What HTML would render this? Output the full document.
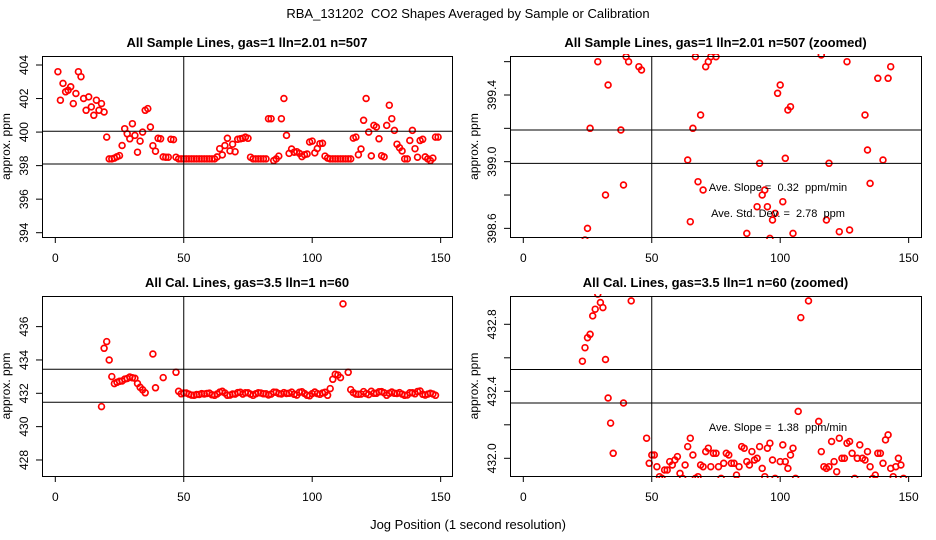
<!DOCTYPE html>
<html><head><meta charset="utf-8"><style>
html,body{margin:0;padding:0;background:#fff;width:936px;height:540px;overflow:hidden;}
svg{display:block;font-family:"Liberation Sans",sans-serif;}
svg text{white-space:pre;}
</style></head><body>
<svg id="chart" width="936" height="540" viewBox="0 0 936 540" xml:space="preserve">
<text x="468" y="18" text-anchor="middle" font-size="13">RBA_131202  CO2 Shapes Averaged by Sample or Calibration</text>
<text x="468" y="529" text-anchor="middle" font-size="13">Jog Position (1 second resolution)</text>
</svg>
<script>
// Sample-line data (x = 1..149)
const sampleX = [];
for (let i = 1; i <= 149; i++) sampleX.push(i);
const sampleValues = [
403.6,401.9,402.9,402.4,402.5,402.7,401.7,402.3,403.6,403.3,
402.0,401.3,402.1,401.5,401.0,401.9,401.3,401.7,401.2,399.7,
398.4,398.4,398.45,398.53,398.6,399.2,400.2,399.9,399.6,400.5,
399.8,398.8,399.46,400.0,401.3,401.4,400.3,399.19,398.86,399.63,
399.6,398.52,398.5,398.5,399.57,399.55,398.5,398.4,398.4,398.4,
398.4,398.4,398.4,398.4,398.4,398.4,398.4,398.4,398.4,398.4,
398.4,398.4,398.52,399.01,398.64,399.2,399.63,398.88,399.28,398.83,
399.57,399.6,399.63,399.7,399.63,398.5,398.4,398.4,398.4,398.4,
398.4,398.4,400.8,400.8,398.3,398.4,398.57,400.8,402.0,399.8,
398.73,398.99,398.8,398.83,398.73,398.54,398.65,398.69,399.41,399.46,
398.76,399.02,399.31,399.33,398.57,398.45,398.4,398.4,398.4,398.4,
398.4,398.4,398.4,398.4,398.4,399.64,399.7,398.65,398.99,400.7,
402.0,400.0,398.58,400.4,400.3,399.6,398.59,398.52,400.4,401.6,
400.8,400.1,399.28,399.07,398.87,398.4,398.4,399.5,400.1,399.01,
398.5,399.5,399.57,398.52,398.4,398.3,398.45,399.7,399.7];
// Calibration-line data (x = 18..148, null = missing)
const calX = [];
for (let i = 18; i <= 148; i++) calX.push(i);
const calValues = [
431.2,434.7,435.1,434.0,433.0,432.58,432.66,432.72,432.74,432.85,
432.89,432.98,432.93,432.9,432.59,432.36,432.21,432.03,null,null,
434.36,432.33,null,null,432.94,null,null,null,null,433.26,
432.12,431.97,432.02,432.02,431.95,431.89,431.88,431.93,431.93,431.98,
431.96,431.99,432.01,431.91,431.88,431.96,432.07,432.12,432.02,431.88,
431.89,431.96,431.95,432.04,432.06,431.95,432.03,432.03,431.95,431.88,
431.97,432.03,432.02,431.97,431.97,431.90,431.95,432.07,432.06,431.98,
431.96,432.04,431.99,432.0,432.07,431.94,431.89,432.06,432.09,431.99,
431.88,431.85,431.98,432.08,431.98,431.94,432.02,432.06,431.88,432.28,
432.84,433.14,433.1,432.94,437.36,438.1,433.26,432.22,432.04,431.95,
431.94,431.95,432.1,431.98,431.92,432.12,432.0,432.0,432.09,432.1,
432.03,431.88,432.0,432.08,432.0,431.99,432.04,431.95,431.88,431.9,
432.03,432.03,431.97,432.11,432.14,431.94,431.89,431.95,432.0,431.96,431.88];
const xTicks = [0, 50, 100, 150];
const p1YTicks = [394, 396, 398, 400, 402, 404];
const p2YTicks = [398.6, 398.8, 399.0, 399.2, 399.4, 399.6];
const p2YLabels = ["398.6", "", "399.0", "", "399.4", ""];
const p3YTicks = [428, 430, 432, 434, 436];
const p4YTicks = [432.0, 432.2, 432.4, 432.6, 432.8];
const p4YLabels = ["432.0", "", "432.4", "", "432.8"];
const p1HLines = [400.05, 398.1];
const p2HLines = [399.19, 398.99];
const p3HLines = [433.44, 431.46];
const p4HLines = [432.53, 432.33];
const vLine = 50;

const NS = "http://www.w3.org/2000/svg";
const svg = document.getElementById("chart");
function mk(tag, attrs, parent) {
  const e = document.createElementNS(NS, tag);
  for (const k in attrs) e.setAttribute(k, attrs[k]);
  (parent || svg).appendChild(e);
  return e;
}
const panels = [
  {id:"p1", title:"All Sample Lines, gas=1 lln=2.01 n=507", x0:42,x1:452,y0:56,y1:237, yRef:404, yRefPx:65, yScale:16.77,
   xs:sampleX, ys:sampleValues, ticks:p1YTicks, labels:p1YTicks.map(String), hl:p1HLines, notes:[]},
  {id:"p2", title:"All Sample Lines, gas=1 lln=2.01 n=507 (zoomed)", x0:510,x1:921,y0:56,y1:237, yRef:399.4, yRefPx:95, yScale:166.7,
   xs:sampleX, ys:sampleValues, ticks:p2YTicks, labels:p2YLabels, hl:p2HLines,
   notes:[["Ave. Slope =  0.32  ppm/min",191],["Ave. Std. Dev. =  2.78  ppm",217]]},
  {id:"p3", title:"All Cal. Lines, gas=3.5 lln=1 n=60", x0:42,x1:452,y0:296,y1:476, yRef:432, yRefPx:393.3, yScale:16.67,
   xs:calX, ys:calValues, ticks:p3YTicks, labels:p3YTicks.map(String), hl:p3HLines, notes:[]},
  {id:"p4", title:"All Cal. Lines, gas=3.5 lln=1 n=60 (zoomed)", x0:510,x1:921,y0:296,y1:476, yRef:432, yRefPx:458.3, yScale:167.5,
   xs:calX, ys:calValues, ticks:p4YTicks, labels:p4YLabels, hl:p4HLines,
   notes:[["Ave. Slope =  1.38  ppm/min",431]]}
];
panels.forEach(function(p){
  const g = mk("g", {});
  
  
  const xMap = function(v){ return p.x0 + 13.3 + v * 2.569; };
  const yMap = function(v){ return p.yRefPx + (p.yRef - v) * p.yScale; };
  const t = mk("text", {x:(p.x0+p.x1)/2, y:p.y0-9, "text-anchor":"middle", "font-size":"13", "font-weight":"bold"}, g);
  t.textContent = p.title;
  
  
  const cp = mk("clipPath", {id:"clip-"+p.id}, g);
  mk("rect", {x:p.x0, y:p.y0-2, width:p.x1-p.x0, height:p.y1-p.y0+4}, cp);
  const pg = mk("g", {"clip-path":"url(#clip-"+p.id+")"}, g);
  
  
  p.xs.forEach(function(xv, i){
    const yv = p.ys[i];
    if (yv === null) return;
    const cy = yMap(yv);
    if (cy < p.y0 - 4 || cy > p.y1 + 4) return;
    const c = mk("circle", {cx:xMap(xv).toFixed(1), cy:cy.toFixed(1), r:"2.9", fill:"none", stroke:"#ff0000", "stroke-width":"1.7"}, pg);
    
    
  });
  p.hl.forEach(function(h){
    const l = mk("line", {x1:p.x0, x2:p.x1, y1:yMap(h), y2:yMap(h), stroke:"#000", "stroke-width":"1"}, g);
    
    
  });
  const vl = mk("line", {x1:xMap(vLine), x2:xMap(vLine), y1:p.y0, y2:p.y1, stroke:"#000", "stroke-width":"1"}, g);
  
  
  const b = mk("rect", {x:p.x0+0.5, y:p.y0+0.5, width:p.x1-p.x0, height:p.y1-p.y0, fill:"none", stroke:"#000", "stroke-width":"1"}, g);
  
  
  xTicks.forEach(function(v){
    const x = xMap(v);
    mk("line", {x1:x, x2:x, y1:p.y1, y2:p.y1+6, stroke:"#000"}, g);
    const tl = mk("text", {x:x, y:p.y1+25, "text-anchor":"middle", "font-size":"12"}, g);
    tl.textContent = v;
    
    
  });
  p.ticks.forEach(function(v, i){
    const y = yMap(v);
    mk("line", {x1:p.x0-6, x2:p.x0, y1:y, y2:y, stroke:"#000"}, g);
    if (p.labels[i]) {
      const lx = p.x0 - 14;
      const tl = mk("text", {x:lx, y:y, "text-anchor":"middle", "font-size":"12", transform:"rotate(-90 "+lx+" "+y+")"}, g);
      tl.textContent = p.labels[i];
      
      
    }
  });
  const ym = (p.y0+p.y1)/2, ax = p.x0 - 32;
  const yt = mk("text", {x:ax, y:ym, "text-anchor":"middle", "font-size":"12", transform:"rotate(-90 "+ax+" "+ym+")"}, g);
  yt.textContent = "approx. ppm";
  
  
  p.notes.forEach(function(n){
    const nt = mk("text", {x:778, y:n[1], "text-anchor":"middle", "font-size":"11"}, g);
    nt.textContent = n[0];
    
    
  });
});
</script>
</body></html>
